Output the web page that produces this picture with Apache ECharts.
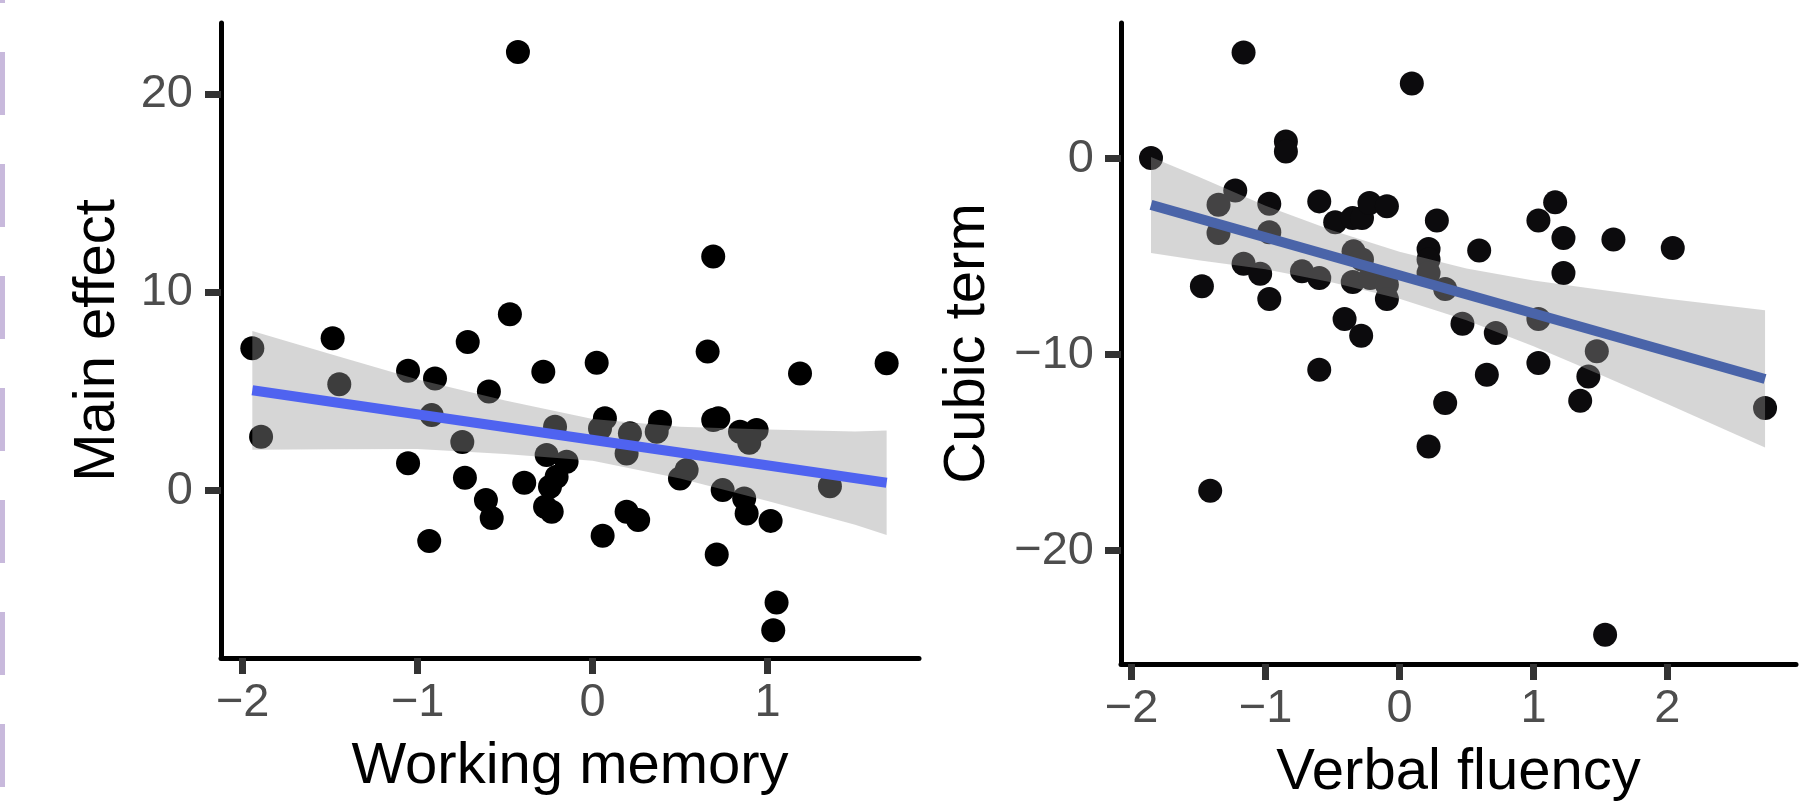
<!DOCTYPE html>
<html>
<head>
<meta charset="utf-8">
<script src="https://cdn.jsdelivr.net/npm/echarts@6/dist/echarts.min.js"></script>
<style>
  html, body { margin: 0; padding: 0; background: #fff; }
  #chart { width: 1817px; height: 810px; }
</style>
</head>
<body>
<div id="chart"></div>
<script>
// left panel: working memory vs main effect
const workingMemory = [-1.945, -1.895, -1.486, -1.448, -1.055, -1.055, -0.901, -0.92, -0.934, -0.714,
  -0.745, -0.73, -0.593, -0.61, -0.577, -0.473, -0.391, -0.282, -0.215, -0.263,
  -0.149, -0.206, -0.244, -0.272, -0.234, 0.023, 0.07, 0.042, 0.057, 0.194,
  0.26, 0.213, 0.194, 0.385, 0.366, 0.537, 0.499, 0.689, 0.657, 0.689,
  0.718, 0.743, 0.709, 0.842, 0.937, 0.895, 0.866, 0.88, 1.017, 1.051,
  1.032, 1.185, 1.356, 1.68, -0.427];
const mainEffect = [7.18, 2.72, 7.68, 5.36, 6.05, 1.38, 5.66, 3.81, -2.53, 7.49,
  2.45, 0.65, 5.0, -0.47, -1.37, 8.89, 0.40, 6.0, 3.22, 1.80,
  1.46, 0.70, 0.20, -0.81, -1.06, 6.45, 3.65, 3.14, -2.27, -1.06,
  -1.48, 2.89, 1.88, 3.47, 2.97, 1.04, 0.62, 11.80, 7.01, 3.56,
  3.65, 0.03, -3.21, 2.97, 3.06, 2.42, -0.39, -1.15, -1.52, -5.63,
  -7.03, 5.91, 0.23, 6.42, 22.11];
const wmFitX = [-1.945, 1.68];
const wmFitY = [5.06, 0.40];
const wmBandX = [-1.945, -1.5, -1.0, -0.5, 0, 0.5, 1.0, 1.5, 1.68];
const wmBandUpper = [8.05, 6.89, 5.60, 4.55, 3.61, 3.22, 3.08, 2.98, 3.03];
const wmBandLower = [2.07, 2.09, 2.10, 1.85, 1.51, 0.62, -0.52, -1.72, -2.23];

// right panel: verbal fluency vs cubic term
const verbalFluency = [-1.855, -1.164, 0.092, -0.848, -0.848, -1.226, -1.351, -1.351, -0.972, -0.972,
  -1.475, -1.164, -1.04, -0.972, -0.599, -0.48, -0.35, -0.28, -0.224, -0.094,
  -0.728, -0.599, -0.343, -0.28, -0.349, -0.219, -0.094, -0.094, -0.41, -0.286,
  -0.599, 0.279, 0.217, 0.217, 0.217, 0.341, 0.595, 0.47, 0.719, 0.652,
  0.341, 0.217, -1.413, 1.535, 1.162, 1.037, 1.224, 1.597, 2.04, 1.224,
  1.037, 1.473, 1.037, 1.41, 1.349, 2.729];
const cubicTerm = [0.03, 5.42, 3.83, 0.88, 0.37, -1.62, -2.35, -3.79, -2.30, -3.76,
  -6.51, -5.36, -5.87, -7.16, -2.18, -3.25, -3.03, -3.03, -2.26, -2.43,
  -5.75, -6.09, -4.73, -5.15, -6.29, -6.09, -6.43, -7.16, -8.18, -9.03,
  -10.77, -3.16, -4.61, -5.15, -5.83, -6.65, -4.69, -8.42, -8.89, -11.02,
  -12.47, -14.68, -16.94, -24.29, -2.23, -3.16, -4.05, -4.13, -4.56, -5.83,
  -8.18, -9.83, -10.42, -11.11, -12.35, -12.72];
const vfFitX = [-1.855, 2.729];
const vfFitY = [-2.36, -11.24];
const vfBandX = [-1.855, -1.5, -1, -0.5, 0, 0.5, 1, 1.5, 2, 2.729];
const vfBandUpper = [0.09, -0.92, -2.40, -3.66, -4.75, -5.60, -6.21, -6.69, -7.15, -7.74];
const vfBandLower = [-4.81, -5.18, -5.64, -6.32, -7.15, -8.24, -9.57, -11.03, -12.51, -14.74];

// tick labels
const wmXTicks = [-2, -1, 0, 1];
const wmYTicks = [0, 10, 20];
const vfXTicks = [-2, -1, 0, 1, 2];
const vfYTicks = [-20, -10, 0];

const FONT = '"Liberation Sans", Arial, Helvetica, sans-serif';
const minusFmt = v => (v < 0 ? '\u2212' + (-v) : String(v));
const zip = (a, b) => a.map((v, i) => [v, b[i]]);

function axis(gridIndex, min, max, ticks, name, nameGap, labelMargin) {
  return {
    type: 'value',
    gridIndex: gridIndex,
    min: min,
    max: max,
    name: name,
    nameLocation: 'middle',
    nameGap: nameGap,
    nameTextStyle: { fontSize: 58, color: '#000', fontFamily: FONT },
    axisLine: { onZero: false, lineStyle: { color: '#000', width: 5 } },
    axisTick: { length: 16, customValues: ticks, lineStyle: { color: '#333', width: 7 } },
    axisLabel: {
      customValues: ticks, margin: labelMargin, color: '#4d4d4d',
      fontSize: 47, fontFamily: FONT, formatter: minusFmt
    },
    splitLine: { show: false }
  };
}

// confidence ribbon, drawn as one polygon through the axis scales
function band(idx, bx, lo, hi) {
  return {
    type: 'custom',
    xAxisIndex: idx,
    yAxisIndex: idx,
    z: 3,
    silent: true,
    data: [[bx[0], lo[0]]],
    renderItem: function (params, api) {
      const pts = [];
      for (let i = 0; i < bx.length; i++) pts.push(api.coord([bx[i], hi[i]]));
      for (let i = bx.length - 1; i >= 0; i--) pts.push(api.coord([bx[i], lo[i]]));
      return {
        type: 'polygon',
        shape: { points: pts },
        style: { fill: 'rgba(153,153,153,0.4)' }
      };
    }
  };
}

var chart = echarts.init(document.getElementById('chart'));

var option = {
  animation: false,
  backgroundColor: '#fff',
  grid: [
    { left: 221, top: 23, width: 698, height: 635 },
    { left: 1121, top: 23, width: 675, height: 641 }
  ],
  xAxis: [
    axis(0, -2.124, 1.865, wmXTicks, 'Working memory', 80, 22),
    axis(1, -2.079, 2.96, vfXTicks, 'Verbal fluency', 80, 22)
  ],
  yAxis: [
    axis(0, -8.43, 23.57, wmYTicks, 'Main effect', 94, 28),
    axis(1, -25.78, 6.92, vfYTicks, 'Cubic term', 124, 27)
  ],
  graphic: [{
    // dashed lavender strip along the left edge
    type: 'line',
    shape: { x1: 2.5, y1: -60, x2: 2.5, y2: 830 },
    style: { stroke: '#c8b9dc', lineWidth: 5, lineDash: [63, 49] },
    silent: true
  }],
  series: [
    {
      type: 'scatter', xAxisIndex: 0, yAxisIndex: 0, z: 2,
      symbolSize: 24, itemStyle: { color: '#000', opacity: 1 },
      data: zip(workingMemory, mainEffect)
    },
    band(0, wmBandX, wmBandLower, wmBandUpper),
    {
      type: 'line', xAxisIndex: 0, yAxisIndex: 0, z: 4,
      symbol: 'none', lineStyle: { color: '#4f63f0', width: 10 },
      data: zip(wmFitX, wmFitY)
    },
    {
      type: 'scatter', xAxisIndex: 1, yAxisIndex: 1, z: 2,
      symbolSize: 24, itemStyle: { color: '#0c0b0d', opacity: 1 },
      data: zip(verbalFluency, cubicTerm)
    },
    band(1, vfBandX, vfBandLower, vfBandUpper),
    {
      type: 'line', xAxisIndex: 1, yAxisIndex: 1, z: 4,
      symbol: 'none', lineStyle: { color: '#4a64a9', width: 10 },
      data: zip(vfFitX, vfFitY)
    }
  ]
};

option && chart.setOption(option);
</script>
</body>
</html>
